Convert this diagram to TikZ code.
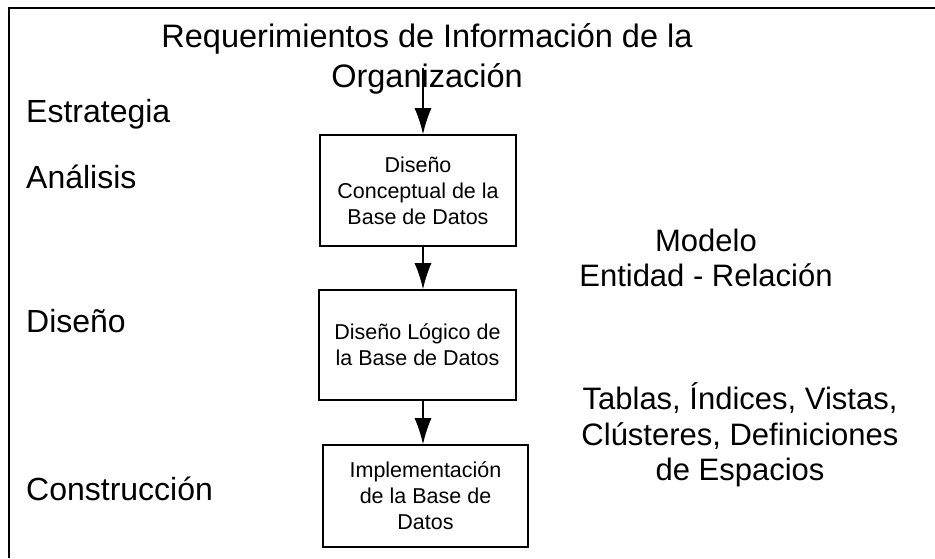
\documentclass[tikz,border=0pt]{standalone}
\usepackage{fontspec}
\setmainfont{Liberation Sans}
\usepackage{tikz}
\usetikzlibrary{arrows.meta}
\tikzstyle{box}=[rectangle,draw=black,line width=1.6pt,align=center,inner sep=0pt,font=\fontsize{21.5}{26}\selectfont]
\tikzstyle{phase}=[anchor=base west,inner sep=0pt,font=\fontsize{32}{38}\selectfont]
\tikzstyle{result}=[align=center,inner sep=0pt,font=\fontsize{31}{35.5}\selectfont]
\tikzstyle{flow}=[line width=1.3pt,-{Latex[length=26pt,width=17pt]}]

\begin{document}
\begin{tikzpicture}[x=1pt,y=-1pt]
  \useasboundingbox (0,0) rectangle (935,558);
  \draw [line width=2.6pt] (9,558) -- (9,8) -- (935,8);
  \node at (427,59) [result,font=\fontsize{32.5}{40}\selectfont] (Title) {Requerimientos de Informaci\'on de la\\Organizaci\'on};
  \node at (26,122) [phase] (Strategy) {Estrategia};
  \node at (26,188) [phase] (Analysis) {An\'alisis};
  \node at (26,332) [phase] (Design) {Dise\~no};
  \node at (26,500) [phase] (Build) {Construcci\'on};
  \node at (418,190.5) [box,minimum width=196pt,minimum height=111pt] (Concept) {Dise\~no\\Conceptual de la\\Base de Datos};
  \node at (417.5,345) [box,minimum width=197pt,minimum height=110pt] (Logic) {Dise\~no L\'ogico de\\la Base de Datos};
  \node at (425.5,496) [box,minimum width=205pt,minimum height=102pt] (Impl) {Implementaci\'on\\de la Base de\\Datos};
  \node at (706,258) [result] (ERModel) {Modelo\\Entidad - Relaci\'on};
  \node at (740,435) [result] (Objects) {Tablas, \'Indices, Vistas,\\Cl\'usteres, Definiciones\\de Espacios};
  \coordinate (Entry) at (423,68);
  \draw [flow] (Entry) to (Entry |- Concept.north);
  \draw [flow] (Entry |- Concept.south) to (Entry |- Logic.north);
  \draw [flow] (Entry |- Logic.south) to (Entry |- Impl.north);
\end{tikzpicture}
\end{document}
